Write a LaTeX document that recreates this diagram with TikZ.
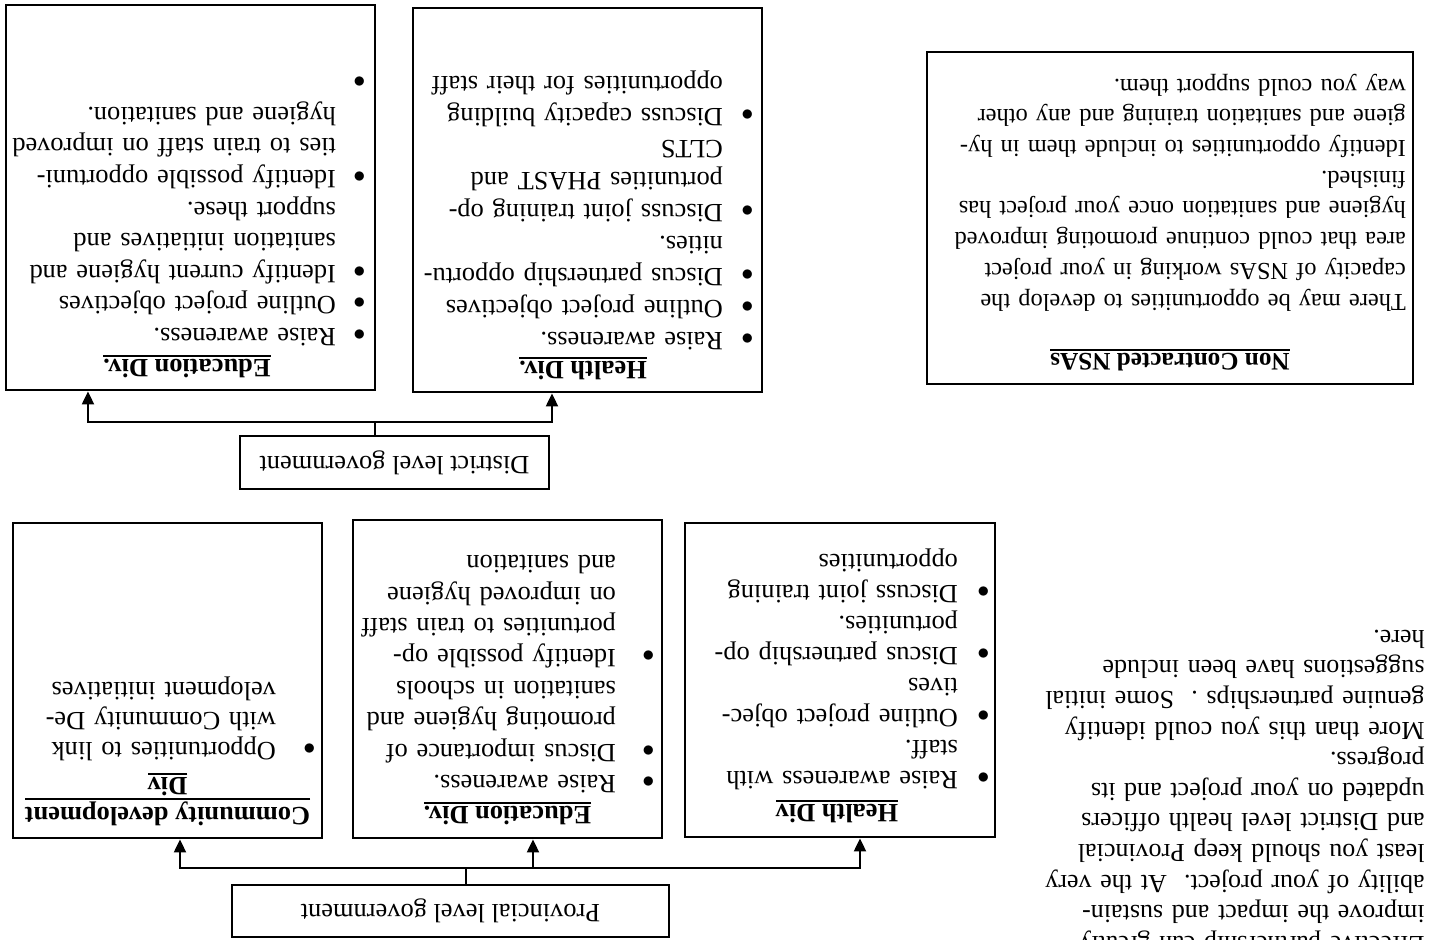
\documentclass[tikz,border=0pt]{standalone}
\usepackage{fontspec}
\setmainfont{Liberation Serif}
\usetikzlibrary{arrows.meta,positioning}

\newlength{\bulind}
\newsavebox{\hdrbox}
\newcommand{\bitem}[1]{\noindent\hangindent=\bulind\relax\hangafter=1\relax
  \makebox[\bulind][l]{$\bullet$}#1\par}
\newcommand{\hdr}[1]{\sbox{\hdrbox}{\textbf{#1}}\leavevmode
  \rlap{\rule[-\dimexpr\dp\hdrbox+2pt\relax]{\wd\hdrbox}{0.9pt}}\usebox{\hdrbox}}

\def\boxlw{1.4pt}
\def\fsize{13.2}
\tikzstyle{panel}=[draw, line width=\boxlw, inner sep=0pt]
\tikzstyle{govbox}=[draw, line width=\boxlw, font=\fontsize{\fsize}{15.6}\selectfont]
\tikzstyle{divtitle}=[anchor=north, inner sep=0pt, align=center,
    font=\fontsize{\fsize}{15}\selectfont]
\tikzstyle{conn}=[line width=1pt]
\tikzstyle{stub}=[line width=0.6pt]
\tikzset{blist/.style={anchor=north west, inner sep=0pt, align=left,
    font=\fontsize{\fsize}{#1}\selectfont}}

\begin{document}
\begin{tikzpicture}[x=0.5pt, y=-0.5pt, rotate=180, transform shape,
    >={Triangle[length=6.5pt,width=6pt]}]
	\useasboundingbox (0,0) rectangle (1451,939);
	\clip (0,0) rectangle (1451,939);

	% provincial level
	\node (pg) [govbox, minimum width=218.5pt, minimum height=26pt] at (1000.5,28) {Provincial level government};
	\node (ph) [panel, minimum width=155pt, minimum height=157pt] at (611,259) {};
	\node (pe) [panel, minimum width=154.5pt, minimum height=159pt] at (943.5,260) {};
	\node (cd) [panel, minimum width=154.5pt, minimum height=157.5pt] at (1283.5,258.5) {};

	\coordinate (pj) at (985,71);
	\coordinate (pa1) at (591,71);
	\coordinate (pa2) at (918,71);
	\coordinate (pa3) at (1271,71);
	\draw [stub] (pg.south -| pj) -- (pj);
	\draw [conn,->] (pj) -| (ph.north -| pa1);
	\draw [conn,->] (pj) -| (pe.north -| pa2);
	\draw [conn,->] (pj) -| (cd.north -| pa3);

	\path (ph.north)+(3,15) node [divtitle] (phtitle) {\hdr{Health Div}};
	\path (ph.north west)+(6.5,48) node [blist=15.5pt, text width=150pt] (phlist) {\setlength{\bulind}{15.75pt}%
		\bitem{Raise awareness with\newline staff.}
		\bitem{Outline project objec-\newline tives}
		\bitem{Discus partnership op-\newline portunities.}
		\bitem{Discuss joint training\newline opportunities}};

	\path (pe.north)+(0,14) node [divtitle] (petitle) {\hdr{Education Div.}};
	\path (pe.north west)+(8.5,46) node [blist=15.7pt, text width=149pt] (pelist) {\setlength{\bulind}{19.25pt}%
		\bitem{Raise awareness.}
		\bitem{Discus importance of\newline promoting hygiene and\newline sanitation in schools}
		\bitem{Identify possible op-\newline portunities to train staff\newline on improved hygiene\newline and sanitation}};

	\path (cd.north)+(0,13) node [divtitle] (cdtitle) {\hdr{Community development}\\ \hdr{Div}};
	\path (cd.north west)+(7.5,78) node [blist=15pt, text width=150pt] (cdlist) {\setlength{\bulind}{19.75pt}%
		\bitem{Opportunities to link\newline with Community De-\newline velopment initiatives}};

	% district level
	\node (dg) [govbox, minimum width=154.5pt, minimum height=26.5pt] at (1056.5,476.5) {District level government};
	\node (dh) [panel, minimum width=174.5pt, minimum height=192pt] at (863.5,739) {};
	\node (de) [panel, minimum width=184.5pt, minimum height=192.5pt] at (1260.5,741.5) {};

	\coordinate (dj) at (1076,517);
	\coordinate (da1) at (899,517);
	\coordinate (da2) at (1363,517);
	\draw [stub] (dg.south -| dj) -- (dj);
	\draw [conn,->] (dj) -| (dh.north -| da1);
	\draw [conn,->] (dj) -| (de.north -| da2);

	\path (dh.north)+(4.5,13) node [divtitle] (dhtitle) {\hdr{Health Div.}};
	\path (dh.north west)+(9.5,43) node [blist=16pt, text width=167.5pt] (dhlist) {\setlength{\bulind}{15.25pt}%
		\bitem{Raise awareness.}
		\bitem{Outline project objectives}
		\bitem{Discus partnership opportu-\newline nities.}
		\bitem{Discuss joint training op-\newline portunities PHAST and\newline CLTS}
		\bitem{Discuss capacity building\newline opportunities for their staff}};

	\path (de.north)+(3.5,13) node [divtitle] (detitle) {\hdr{Education Div.}};
	\path (de.north west)+(10.5,45) node [blist=15.8pt, text width=177pt] (delist) {\setlength{\bulind}{14.75pt}%
		\bitem{Raise awareness.}
		\bitem{Outline project objectives}
		\bitem{Identify current hygiene and\newline sanitation initiatives and\newline support these.}
		\bitem{Identify possible opportuni-\newline ties to train staff on improved\newline hygiene and sanitation.}
		\bitem{}};

	% NSAs outside the contract
	\node (ns) [panel, minimum width=243pt, minimum height=166pt] at (281,721) {};
	\path (ns.north)+(0,14) node [divtitle, font=\fontsize{12.6}{15}\selectfont] (nstitle) {\hdr{Non Contracted NSAs}};
	\path (ns.north west)+(8,74) node [blist=15.35pt, text width=237pt, font=\fontsize{12.2}{15.35}\selectfont] (nstext) {\noindent
		There may be opportunities to develop the\newline
		capacity of NSAs working in your project\newline
		area that could continue promoting improved\newline
		hygiene and sanitation once your project has\newline
		finished.\newline
		Identify opportunities to include them in hy-\newline
		giene and sanitation training and any other\newline
		way you could support them.};

	% free note
	\path (26,-16) node [blist=15.3pt, text width=200pt, font=\fontsize{13}{15.3}\selectfont] (advice) {\noindent
		Effective partnership can greatly\newline
		improve the impact and sustain-\newline
		ability of your project.\ \ At the very\newline
		least you should keep Provincial\newline
		and District level health officers\newline
		updated on your project and its\newline
		progress.\newline
		More than this you could identify\newline
		genuine partnerships .\ \ Some initial\newline
		suggestions have been include\newline
		here.};
\end{tikzpicture}
\end{document}
